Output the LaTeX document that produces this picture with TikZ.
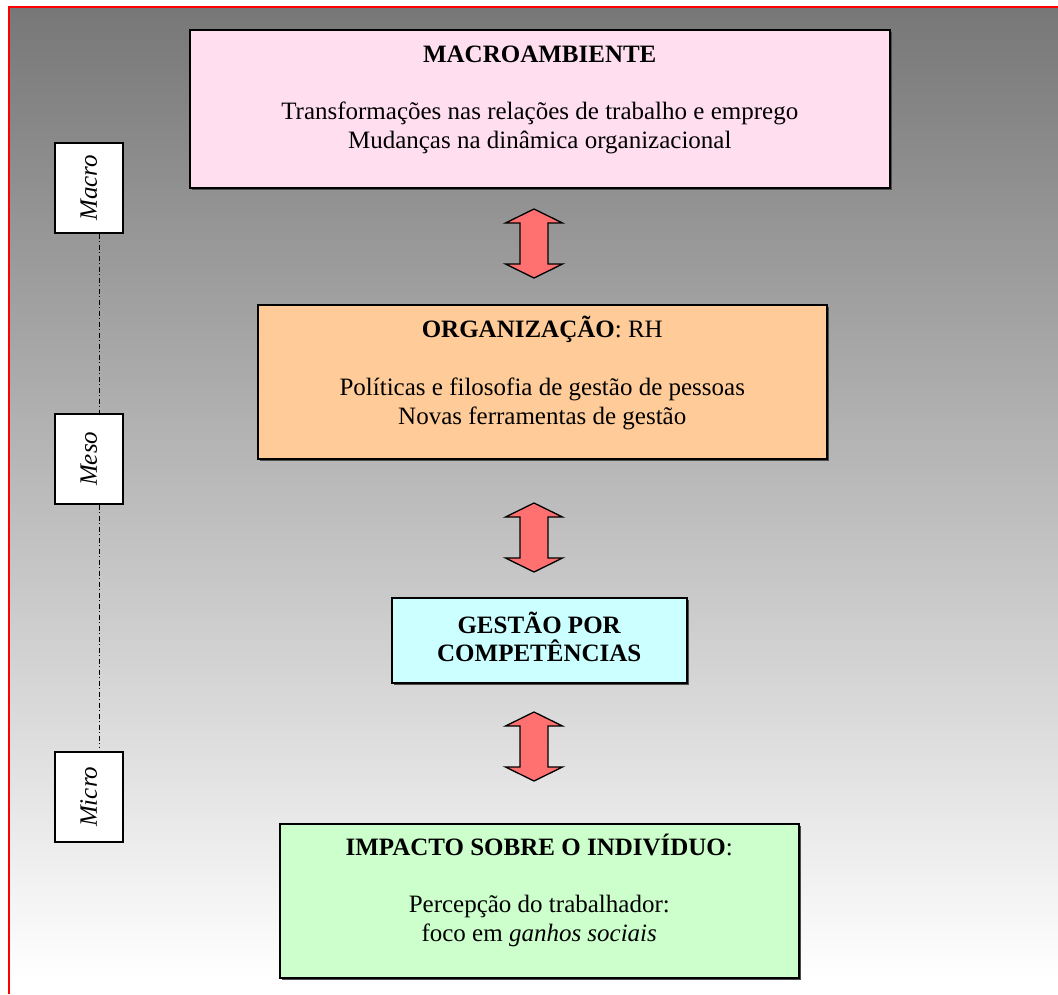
\documentclass[tikz,border=0pt]{standalone}
\usepackage{fontspec}
\setmainfont{Liberation Serif}
\usetikzlibrary{shadows}

\definecolor{bgtop}{HTML}{777777}
\definecolor{macrofill}{HTML}{FFDFEF}
\definecolor{orgfill}{HTML}{FFCC99}
\definecolor{gestfill}{HTML}{CCFFFF}
\definecolor{impfill}{HTML}{CCFFCC}
\definecolor{arrowred}{HTML}{FF7070}

\tikzset{
  levelbox/.style={draw=black, line width=1.5pt, inner sep=0pt, anchor=north west,
    drop shadow={shadow xshift=2pt, shadow yshift=-2pt, fill=black!70, opacity=1}},
  sidebox/.style={draw=black, line width=1.5pt, fill=white, inner sep=0pt, anchor=north west,
    minimum width=68pt, minimum height=90pt},
  textline/.style={anchor=base, inner sep=0pt},
  sidetext/.style={rotate=90, inner sep=0pt, font=\fontsize{25}{29}\selectfont\itshape},
  scaleline/.style={line width=1pt, dash pattern=on 5pt off 2.5pt on 1pt off 2.5pt},
  dblarrow/.pic={
    \draw[fill=arrowred, line width=1.3pt, line join=miter]
      (0,-34.5) -- (28.5,-20.5) -- (14,-20.5) -- (14,20.5) -- (28.5,20.5) -- (0,34.5)
      -- (-28.5,20.5) -- (-14,20.5) -- (-14,-20.5) -- (-28.5,-20.5) -- cycle;
  }
}

\begin{document}
\begin{tikzpicture}[x=1pt, y=-1pt, font=\fontsize{25}{29}\selectfont]
\useasboundingbox (0,0) rectangle (1058,994);
\fill[white] (0,0) rectangle (1058,994);

% framed gradient background
\shade[top color=bgtop, bottom color=white] (9,7) rectangle (1058,978);
\draw[red, line width=2pt] (9,994) -- (9,7) -- (1058,7);

% the four levels
\node[levelbox, fill=macrofill, minimum width=700pt, minimum height=158pt] (macro) at (189,29) {};
\node[levelbox, fill=orgfill, minimum width=569pt, minimum height=154pt] (org) at (257,304) {};
\node[levelbox, fill=gestfill, minimum width=295pt, minimum height=85pt] (gest) at (391,597) {};
\node[levelbox, fill=impfill, minimum width=519pt, minimum height=154pt] (imp) at (279,823) {};

\node[textline] (macroA) at (macro.north |- 0,62) {\textbf{MACROAMBIENTE}};
\node[textline] (macroB) at (macro.north |- 0,119) {Transformações nas relações de trabalho e emprego};
\node[textline] (macroC) at (macro.north |- 0,148) {Mudanças na dinâmica organizacional};

\node[textline] (orgA) at (org.north |- 0,337) {\textbf{ORGANIZAÇÃO}: RH};
\node[textline] (orgB) at (org.north |- 0,395) {Políticas e filosofia de gestão de pessoas};
\node[textline] (orgC) at (org.north |- 0,424) {Novas ferramentas de gestão};

\node[textline] (gestA) at (gest.north |- 0,633) {\textbf{GESTÃO POR}};
\node[textline] (gestB) at (gest.north |- 0,661) {\textbf{COMPETÊNCIAS}};

\node[textline] (impA) at (imp.north |- 0,855) {\textbf{IMPACTO SOBRE O INDIVÍDUO}:};
\node[textline] (impB) at (imp.north |- 0,912) {Percepção do trabalhador:};
\node[textline] (impC) at (imp.north |- 0,941) {foco em \textit{ganhos sociais}};

% block arrows between the levels
\pic (arrA) at (534,243.5) {dblarrow};
\pic (arrB) at (534,537.5) {dblarrow};
\pic (arrC) at (534,746.5) {dblarrow};

% scale of analysis on the left
\node[sidebox] (macroL) at (54,142) {};
\node[sidebox] (mesoL) at (54,413) {};
\node[sidebox] (microL) at (54,751) {};
\node[sidetext] (macroLt) at (macroL.center) {Macro};
\node[sidetext] (mesoLt) at (mesoL.center) {Meso};
\node[sidetext] (microLt) at (microL.center) {Micro};

\draw[scaleline] ([xshift=11pt]macroL.south) -- ([xshift=11pt]mesoL.north);
\draw[scaleline] ([xshift=11pt]mesoL.south) -- ([xshift=11pt, yshift=4pt]microL.north);
\end{tikzpicture}
\end{document}
